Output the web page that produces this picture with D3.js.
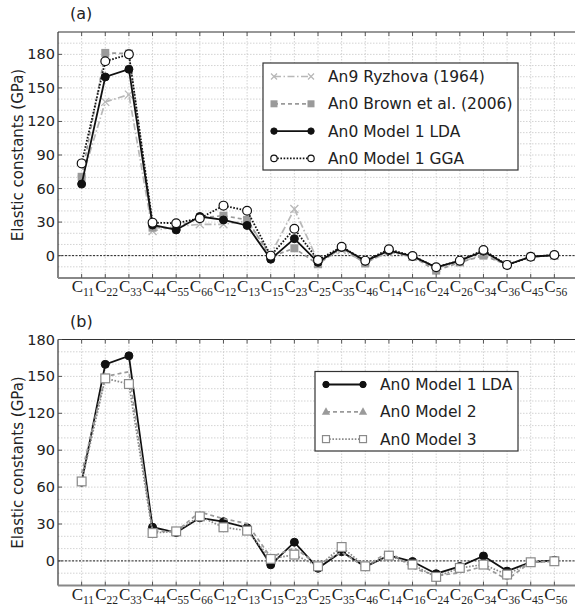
<!DOCTYPE html>
<html>
<head>
    <meta charset="utf-8">
    <title>Elastic constants</title>
    <script src="https://d3js.org/d3.v7.min.js"></script>
    <style>
        body {
            margin: 0;
            background-color: white;
        }
        svg {
            display: block;
            font-family: "DejaVu Sans", sans-serif;
        }
        .grid line {
            stroke: #c8c8c8;
            stroke-width: 0.8px;
            stroke-dasharray: 1.5, 1.5;
        }
        .series path {
            fill: none;
        }
        .ylab text {
            font-size: 14.5px;
            fill: #222;
        }
        .xlab text {
            font-family: "Liberation Serif", "DejaVu Serif", serif;
            fill: #222;
        }
        .legend text {
            font-size: 15.5px;
            fill: #222;
        }
    </style>
</head>
<body>
    <svg width="575" height="607"></svg>

    <script>
        const categories = ["11", "22", "33", "44", "55", "66", "12", "13", "15", "23",
                            "25", "35", "46", "14", "16", "24", "26", "34", "36", "45", "56"];

        // panel (a)
        const ryzhova = [68, 137.5, 144, 22, 26, 28, 28, 31, 1, 41.7, -5, 5, -6, 3, -1, -11, -6, 1, -8, -1, 0];
        const brown   = [70.5, 181.3, 180.7, 25, 25, 34, 35.7, 32, -1, 6.6, -7.7, 7, -7, 5, -1, -13.4, -6, 0, -8, -1, 0];
        const lda     = [64, 159.8, 166.7, 27.4, 23, 35, 31.9, 27, -3.2, 15.2, -6, 7.5, -4.7, 4.5, -0.5, -10.4, -4.5, 4, -8.3, -1, 0.5];
        const gga     = [82.5, 173.8, 180, 29.5, 29, 33.4, 44.7, 40.2, 0, 24, -4, 8, -4.5, 5.7, -0.3, -10.4, -4.5, 5, -8.3, -1, 0.6];

        // panel (b)
        const model2  = [71.4, 150, 153.8, 24, 24, 39.7, 34.3, 30.3, 3, 10.5, -3, 7, -5, 7.8, -5.7, -12, -9.7, -4.4, -15.2, -1.1, -0.3];
        const model3  = [64.6, 148.4, 143.8, 22.7, 24, 36.2, 27.3, 24.6, 1.6, 5.1, -4.4, 11.3, -4.4, 4.3, -3, -13, -5.7, -3, -11.1, -1.1, -0.3];

        const yTicksA = [0, 30, 60, 90, 120, 150, 180];
        const yTicksB = [0, 30, 60, 90, 120, 150, 180];

        const svg = d3.select("svg");

        const styles = {
            ryzhova: { color: "#b8b8b8", dash: "7,2.5,1.5,2.5", width: 1.7, marker: "cross" },
            brown:   { color: "#9a9a9a", dash: "4,3", width: 1.7, marker: "square" },
            lda:     { color: "#111", dash: null, width: 1.8, marker: "circle" },
            gga:     { color: "#111", dash: "1.6,1.6", width: 1.8, marker: "ocircle" },
            model2:  { color: "#9a9a9a", dash: "4,3", width: 1.7, marker: "triangle" },
            model3:  { color: "#8a8a8a", dash: "1.6,1.6", width: 1.7, marker: "osquare" }
        };

        function drawMarker(g, type, color, x, y, s) {
            if (type === "circle") {
                g.append("circle").attr("cx", x).attr("cy", y).attr("r", s)
                 .attr("fill", color).attr("stroke", color);
            } else if (type === "ocircle") {
                g.append("circle").attr("cx", x).attr("cy", y).attr("r", s)
                 .attr("fill", "white").attr("stroke", color).attr("stroke-width", 1.2);
            } else if (type === "square") {
                g.append("rect").attr("x", x - s).attr("y", y - s)
                 .attr("width", 2 * s).attr("height", 2 * s).attr("fill", color);
            } else if (type === "osquare") {
                g.append("rect").attr("x", x - s).attr("y", y - s)
                 .attr("width", 2 * s).attr("height", 2 * s)
                 .attr("fill", "white").attr("stroke", color).attr("stroke-width", 1.2);
            } else if (type === "triangle") {
                g.append("path")
                 .attr("d", `M${x},${y - s * 1.2}L${x + s * 1.1},${y + s * 0.8}L${x - s * 1.1},${y + s * 0.8}Z`)
                 .attr("fill", color);
            } else if (type === "cross") {
                g.append("path")
                 .attr("d", `M${x - s},${y - s}L${x + s},${y + s}M${x - s},${y + s}L${x + s},${y - s}`)
                 .attr("stroke", color).attr("stroke-width", 1.3);
            }
        }

        const markerSize = { circle: 4, ocircle: 4.4, square: 4, osquare: 4.4, triangle: 5, cross: 4 };
        const legendSize = { circle: 3.2, ocircle: 3.2, square: 3.5, osquare: 3.5, triangle: 3.8, cross: 3 };

        function drawPanel(p) {
            const x = d3.scalePoint()
                        .domain(categories)
                        .range([58, 578])
                        .padding(1);

            const y = d3.scaleLinear()
                        .domain(p.yDomain)
                        .range([p.bottom, p.top]);

            const g = svg.append("g");

            // grid
            const grid = g.append("g").attr("class", "grid");
            grid.selectAll(".gy")
                .data(d3.range(p.yDomain[0] + 10, p.yDomain[1], 10))
                .enter().append("line")
                .attr("x1", 58).attr("x2", 578)
                .attr("y1", d => y(d)).attr("y2", d => y(d));
            grid.selectAll(".gx")
                .data(categories)
                .enter().append("line")
                .attr("x1", d => x(d)).attr("x2", d => x(d))
                .attr("y1", p.top).attr("y2", p.bottom);

            // zero line
            g.append("line")
             .attr("x1", 58).attr("x2", 578)
             .attr("y1", y(0)).attr("y2", y(0))
             .attr("stroke", "#222").attr("stroke-width", 1)
             .attr("stroke-dasharray", "2,1.5");

            // series
            p.series.forEach(s => {
                const st = styles[s.key];
                const sg = g.append("g").attr("class", "series");
                const line = d3.line()
                               .x((d, i) => x(categories[i]))
                               .y(d => y(d));
                sg.append("path")
                  .datum(s.values)
                  .attr("d", line)
                  .attr("stroke", st.color)
                  .attr("stroke-width", st.width)
                  .attr("stroke-dasharray", st.dash);
                s.values.forEach((v, i) => {
                    drawMarker(sg, st.marker, st.color, x(categories[i]), y(v), markerSize[st.marker]);
                });
            });

            // frame
            g.append("line").attr("x1", 58).attr("x2", 578)
             .attr("y1", p.top).attr("y2", p.top)
             .attr("stroke", "#333").attr("stroke-width", 1.2);
            g.append("line").attr("x1", 58).attr("x2", 58)
             .attr("y1", p.top).attr("y2", p.bottom)
             .attr("stroke", "#333").attr("stroke-width", 1.2);
            g.append("line").attr("x1", 58).attr("x2", 578)
             .attr("y1", p.bottom).attr("y2", p.bottom)
             .attr("stroke", "#888").attr("stroke-width", 2);

            // ticks
            g.selectAll(".tb")
             .data(categories)
             .enter().append("line")
             .attr("x1", d => x(d)).attr("x2", d => x(d))
             .attr("y1", p.bottom).attr("y2", p.bottom - 4)
             .attr("stroke", "#555");
            g.selectAll(".tt")
             .data(categories)
             .enter().append("line")
             .attr("x1", d => x(d)).attr("x2", d => x(d))
             .attr("y1", p.top).attr("y2", p.top + 4)
             .attr("stroke", "#555");
            g.selectAll(".tl")
             .data(p.yTicks)
             .enter().append("line")
             .attr("x1", 58).attr("x2", 62)
             .attr("y1", d => y(d)).attr("y2", d => y(d))
             .attr("stroke", "#555");

            // y tick labels
            g.append("g").attr("class", "ylab")
             .selectAll("text")
             .data(p.yTicks)
             .enter().append("text")
             .attr("x", 55)
             .attr("y", d => y(d) + 5)
             .attr("text-anchor", "end")
             .text(d => d);

            // x tick labels
            const xl = g.append("g").attr("class", "xlab")
                        .selectAll("text")
                        .data(categories)
                        .enter().append("text")
                        .attr("x", d => x(d) - 10)
                        .attr("y", p.bottom + 14);
            xl.append("tspan").attr("font-size", "17px").text("C");
            xl.append("tspan").attr("font-size", "11.5px").attr("dy", 4).text(d => d);

            // y axis title
            svg.append("text")
               .attr("transform", `translate(23,${(p.top + p.bottom) / 2}) rotate(-90)`)
               .attr("text-anchor", "middle")
               .attr("font-size", "15px")
               .attr("fill", "#222")
               .text("Elastic constants (GPa)");

            // panel label
            svg.append("text")
               .attr("x", 70).attr("y", p.top - 13)
               .attr("font-size", "16px")
               .attr("fill", "#222")
               .text(p.label);

            // legend
            const lg = g.append("g").attr("class", "legend");
            lg.append("rect")
              .attr("x", p.legend.x).attr("y", p.legend.y)
              .attr("width", p.legend.w).attr("height", p.legend.h)
              .attr("fill", "white").attr("stroke", "#333").attr("stroke-width", 1.2);
            p.series.forEach((s, i) => {
                const st = styles[s.key];
                const ly = p.legend.y + p.legend.first + i * p.legend.step;
                const x0 = p.legend.x + 11, x1 = p.legend.x + 48;
                lg.append("line")
                  .attr("x1", x0).attr("x2", x1).attr("y1", ly).attr("y2", ly)
                  .attr("stroke", st.color).attr("stroke-width", st.width)
                  .attr("stroke-dasharray", st.dash);
                drawMarker(lg, st.marker, st.color, x0, ly, legendSize[st.marker]);
                drawMarker(lg, st.marker, st.color, x1, ly, legendSize[st.marker]);
                lg.append("text")
                  .attr("x", p.legend.x + 65).attr("y", ly + 5.5)
                  .text(s.name);
            });
        }

        drawPanel({
            label: "(a)",
            top: 32, bottom: 278,
            yDomain: [-20, 200],
            yTicks: yTicksA,
            series: [
                { key: "ryzhova", name: "An9 Ryzhova (1964)", values: ryzhova },
                { key: "brown", name: "An0 Brown et al. (2006)", values: brown },
                { key: "lda", name: "An0 Model 1 LDA", values: lda },
                { key: "gga", name: "An0 Model 1 GGA", values: gga }
            ],
            legend: { x: 263, y: 63, w: 255, h: 107, first: 13.5, step: 27.3 }
        });

        drawPanel({
            label: "(b)",
            top: 339.5, bottom: 585.5,
            yDomain: [-20, 180],
            yTicks: yTicksB,
            series: [
                { key: "lda", name: "An0 Model 1 LDA", values: lda },
                { key: "model2", name: "An0 Model 2", values: model2 },
                { key: "model3", name: "An0 Model 3", values: model3 }
            ],
            legend: { x: 315, y: 371.5, w: 203, h: 79.5, first: 13, step: 27.3 }
        });
    </script>
</body>
</html>
